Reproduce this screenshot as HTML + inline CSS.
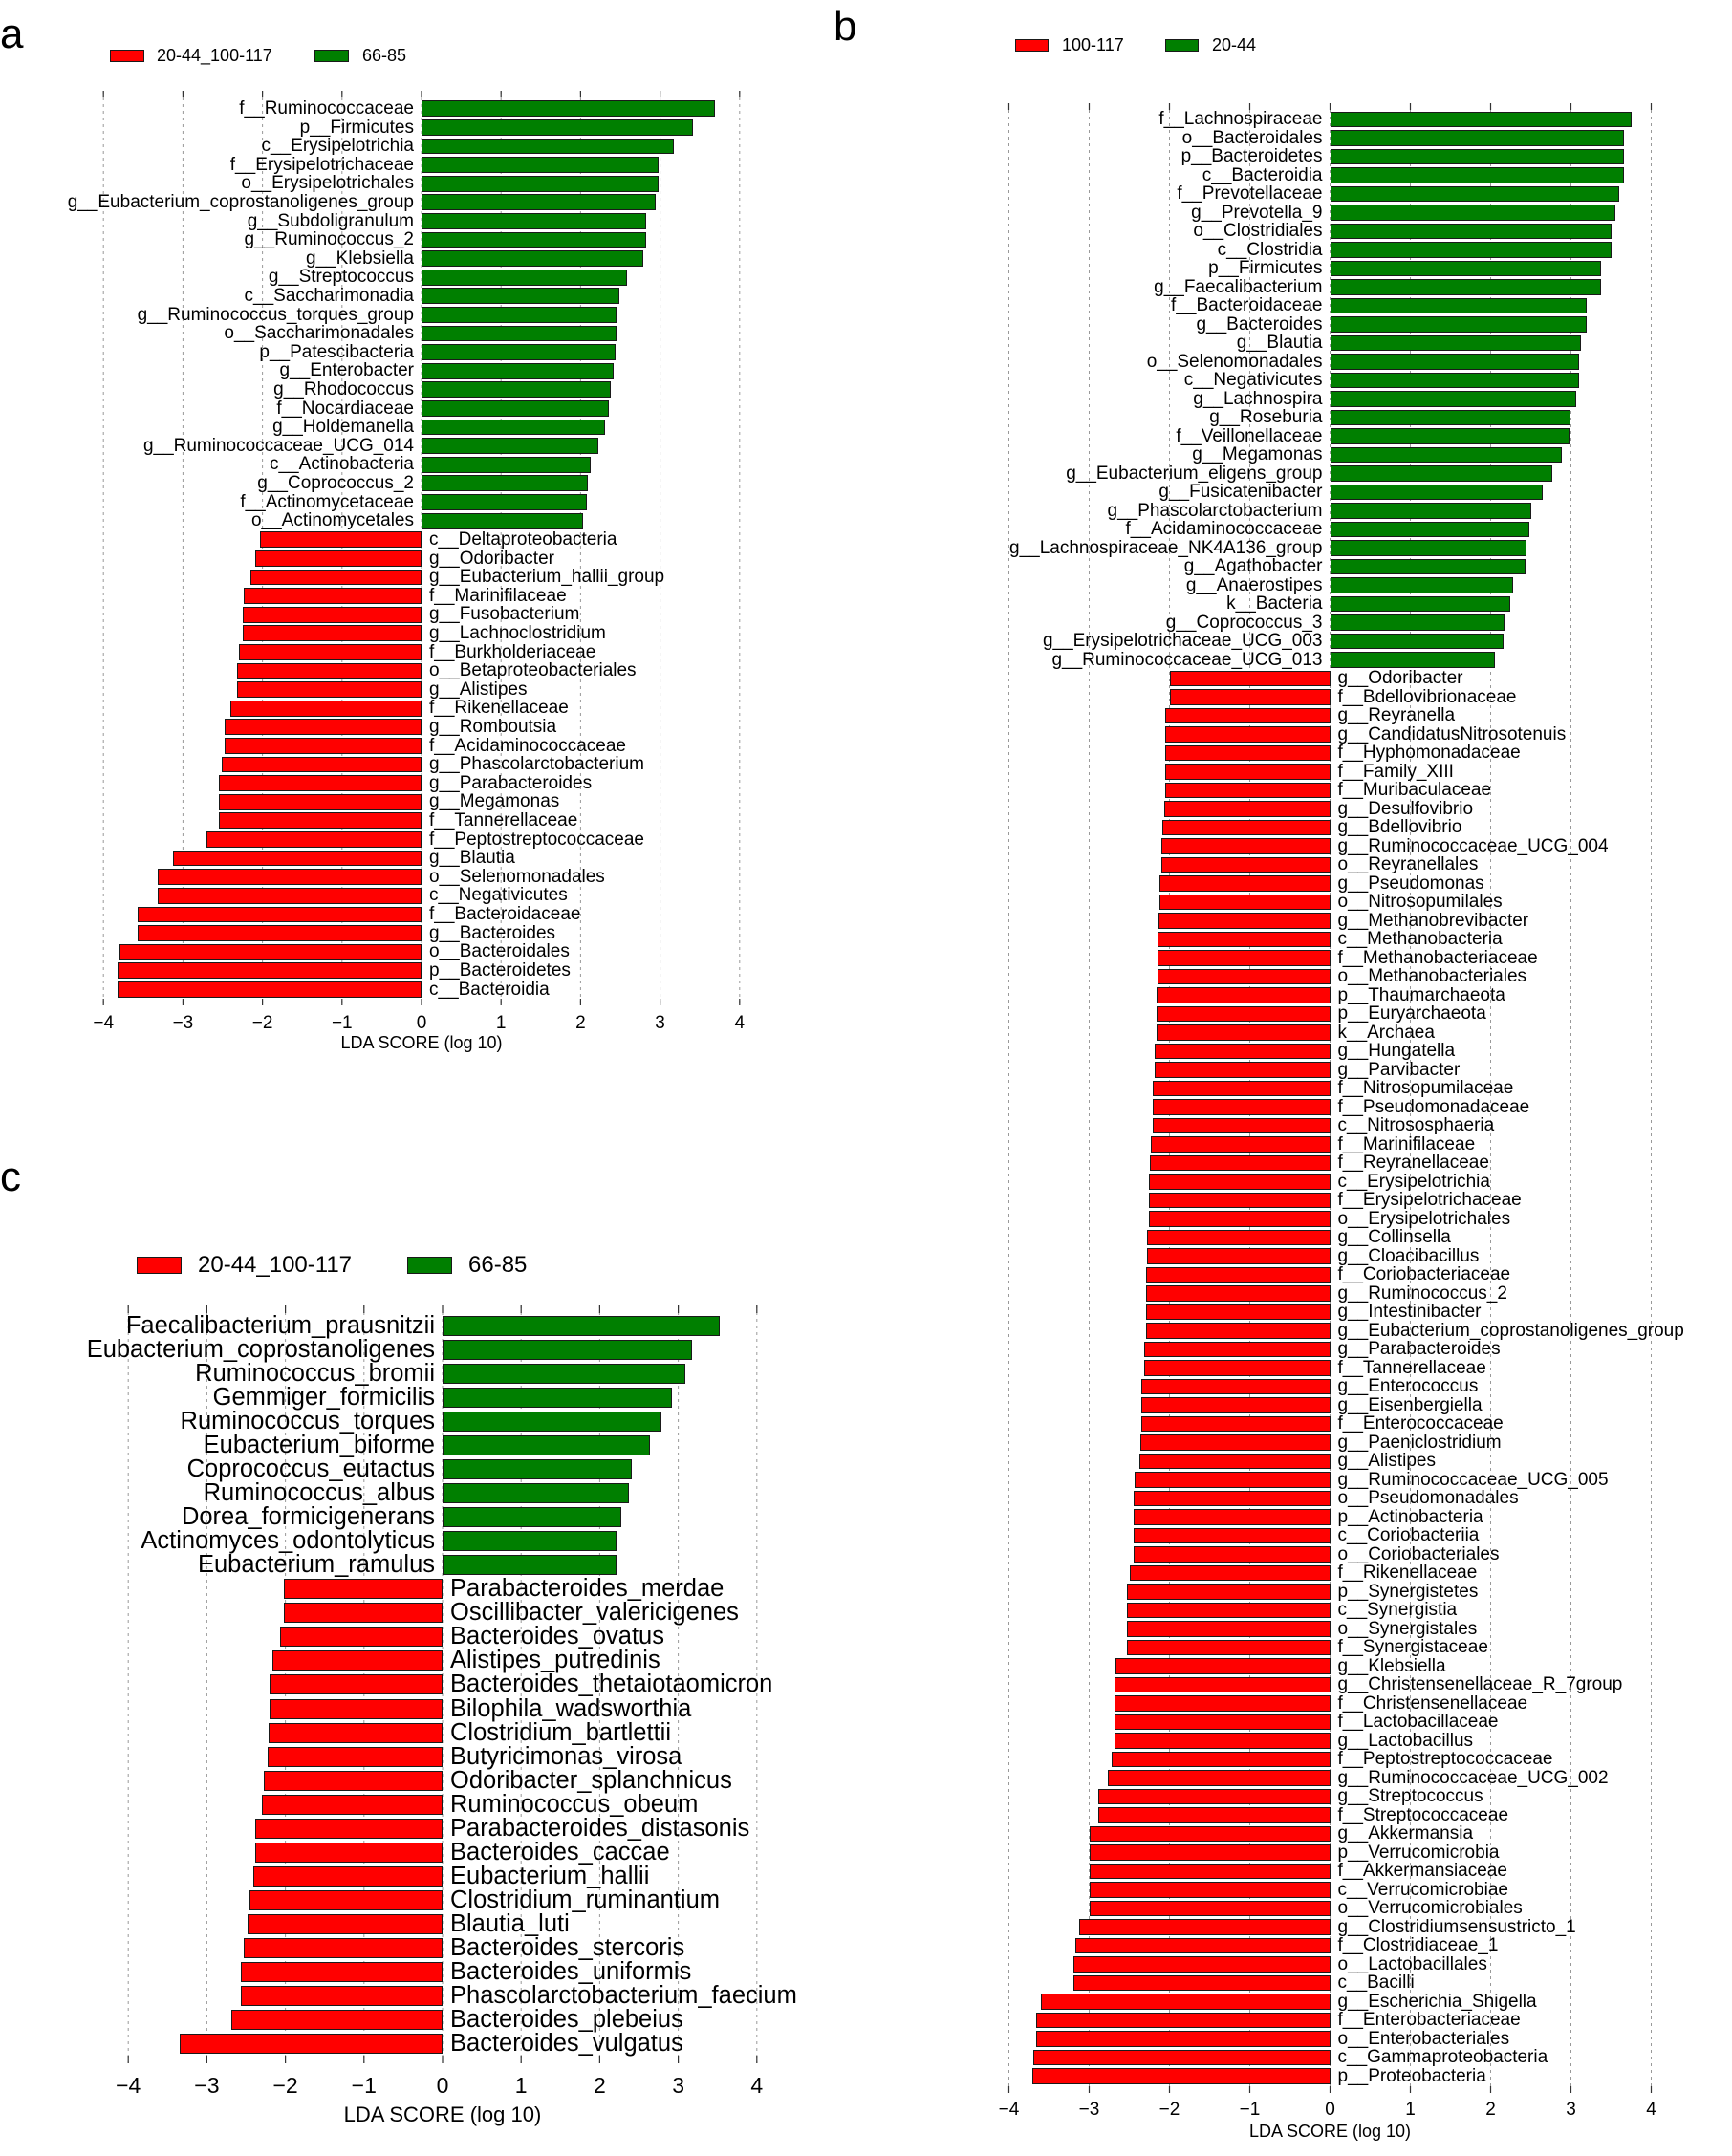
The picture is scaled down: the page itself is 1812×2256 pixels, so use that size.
<!DOCTYPE html>
<html><head><meta charset="utf-8">
<style>
html,body{margin:0;padding:0;background:#fff}
body{width:1812px;height:2256px;position:relative;overflow:hidden;font-family:"Liberation Sans",sans-serif;color:#000}
.lbl{position:absolute;font-size:44px;line-height:1}
.p{position:absolute;width:0}
.r{position:relative;height:var(--h)}
.r i{position:absolute;top:calc((var(--h) - var(--bh))/2);height:var(--bh);box-sizing:border-box;border:1.6px solid #1a1a1a;width:calc(var(--v)*var(--u))}
.g i{left:0;background:#007f00}
.d i{right:0;background:#ff0000}
.r b{position:absolute;top:0;line-height:var(--h);white-space:nowrap;font-weight:normal}
.g b{right:8px}.d b{left:8px}
.pa{left:441px;top:103.9px;--u:83.2px;--h:19.62px;--bh:16.8px;font-size:19px}
.pb{left:1391.5px;top:115.2px;--u:84px;--h:19.51px;--bh:16.7px;font-size:19px}
.pc{left:463px;top:1374.5px;--u:82.2px;--h:25.07px;--bh:21px;font-size:25.5px}
.lg{position:absolute;box-sizing:border-box;border:1.5px solid #1a1a1a}
.lt{position:absolute;white-space:nowrap;line-height:1}
</style></head><body>
<svg width="1812" height="2256" style="position:absolute;left:0;top:0">
<g stroke="#999" stroke-width="1" stroke-dasharray="3,4">
<line x1="108.2" y1="95" x2="108.2" y2="1052"/><line x1="191.4" y1="95" x2="191.4" y2="1052"/><line x1="274.6" y1="95" x2="274.6" y2="1052"/><line x1="357.8" y1="95" x2="357.8" y2="1052"/><line x1="441" y1="95" x2="441" y2="1052"/><line x1="524.2" y1="95" x2="524.2" y2="1052"/><line x1="607.4" y1="95" x2="607.4" y2="1052"/><line x1="690.6" y1="95" x2="690.6" y2="1052"/><line x1="773.8" y1="95" x2="773.8" y2="1052"/>
<line x1="1055.5" y1="108" x2="1055.5" y2="2190"/><line x1="1139.5" y1="108" x2="1139.5" y2="2190"/><line x1="1223.5" y1="108" x2="1223.5" y2="2190"/><line x1="1307.5" y1="108" x2="1307.5" y2="2190"/><line x1="1391.5" y1="108" x2="1391.5" y2="2190"/><line x1="1475.5" y1="108" x2="1475.5" y2="2190"/><line x1="1559.5" y1="108" x2="1559.5" y2="2190"/><line x1="1643.5" y1="108" x2="1643.5" y2="2190"/><line x1="1727.5" y1="108" x2="1727.5" y2="2190"/>
<line x1="134.2" y1="1366" x2="134.2" y2="2159"/><line x1="216.4" y1="1366" x2="216.4" y2="2159"/><line x1="298.6" y1="1366" x2="298.6" y2="2159"/><line x1="380.8" y1="1366" x2="380.8" y2="2159"/><line x1="463" y1="1366" x2="463" y2="2159"/><line x1="545.2" y1="1366" x2="545.2" y2="2159"/><line x1="627.4" y1="1366" x2="627.4" y2="2159"/><line x1="709.6" y1="1366" x2="709.6" y2="2159"/><line x1="791.8" y1="1366" x2="791.8" y2="2159"/>
</g>
<g stroke="#333" stroke-width="1.2">
<path d="M108.2 95v7M191.4 95v7M274.6 95v7M357.8 95v7M441 95v7M524.2 95v7M607.4 95v7M690.6 95v7M773.8 95v7M108.2 1045v7M191.4 1045v7M274.6 1045v7M357.8 1045v7M441 1045v7M524.2 1045v7M607.4 1045v7M690.6 1045v7M773.8 1045v7"/>
<path d="M1055.5 108v7M1139.5 108v7M1223.5 108v7M1307.5 108v7M1391.5 108v7M1475.5 108v7M1559.5 108v7M1643.5 108v7M1727.5 108v7M1055.5 2183v7M1139.5 2183v7M1223.5 2183v7M1307.5 2183v7M1391.5 2183v7M1475.5 2183v7M1559.5 2183v7M1643.5 2183v7M1727.5 2183v7"/>
<path d="M134.2 1366v8M216.4 1366v8M298.6 1366v8M380.8 1366v8M463 1366v8M545.2 1366v8M627.4 1366v8M709.6 1366v8M791.8 1366v8M134.2 2151v8M216.4 2151v8M298.6 2151v8M380.8 2151v8M463 2151v8M545.2 2151v8M627.4 2151v8M709.6 2151v8M791.8 2151v8"/>
</g>
<g font-family="Liberation Sans, sans-serif" text-anchor="middle">
<g font-size="19"><text x="108.2" y="1076">−4</text><text x="191.4" y="1076">−3</text><text x="274.6" y="1076">−2</text><text x="357.8" y="1076">−1</text><text x="441" y="1076">0</text><text x="524.2" y="1076">1</text><text x="607.4" y="1076">2</text><text x="690.6" y="1076">3</text><text x="773.8" y="1076">4</text></g>
<text x="441" y="1097" font-size="18">LDA SCORE (log 10)</text>
<g font-size="19"><text x="1055.5" y="2213">−4</text><text x="1139.5" y="2213">−3</text><text x="1223.5" y="2213">−2</text><text x="1307.5" y="2213">−1</text><text x="1391.5" y="2213">0</text><text x="1475.5" y="2213">1</text><text x="1559.5" y="2213">2</text><text x="1643.5" y="2213">3</text><text x="1727.5" y="2213">4</text></g>
<text x="1391.5" y="2236" font-size="18">LDA SCORE (log 10)</text>
<g font-size="23"><text x="134.2" y="2190">−4</text><text x="216.4" y="2190">−3</text><text x="298.6" y="2190">−2</text><text x="380.8" y="2190">−1</text><text x="463" y="2190">0</text><text x="545.2" y="2190">1</text><text x="627.4" y="2190">2</text><text x="709.6" y="2190">3</text><text x="791.8" y="2190">4</text></g>
<text x="463" y="2220" font-size="22">LDA SCORE (log 10)</text>
</g>
</svg>

<div class="lbl" style="left:0;top:14px">a</div>
<div class="lbl" style="left:872px;top:6px">b</div>
<div class="lbl" style="left:0;top:1210px">c</div>

<div class="lg" style="left:115px;top:52px;width:36px;height:13px;background:#f00"></div>
<div class="lt" style="left:164px;top:49px;font-size:18px">20-44_100-117</div>
<div class="lg" style="left:329px;top:52px;width:36px;height:13px;background:#007f00"></div>
<div class="lt" style="left:379px;top:49px;font-size:18px">66-85</div>

<div class="lg" style="left:1062px;top:41px;width:35px;height:13px;background:#f00"></div>
<div class="lt" style="left:1111px;top:38px;font-size:18px">100-117</div>
<div class="lg" style="left:1219px;top:41px;width:35px;height:13px;background:#007f00"></div>
<div class="lt" style="left:1268px;top:38px;font-size:18px">20-44</div>

<div class="lg" style="left:143px;top:1315px;width:47px;height:18px;background:#f00"></div>
<div class="lt" style="left:207px;top:1312px;font-size:24px">20-44_100-117</div>
<div class="lg" style="left:426px;top:1315px;width:47px;height:18px;background:#007f00"></div>
<div class="lt" style="left:490px;top:1312px;font-size:24px">66-85</div>

<div class="p pa">
<div class="r g" style="--v:3.69"><i></i><b>f__Ruminococcaceae</b></div>
<div class="r g" style="--v:3.41"><i></i><b>p__Firmicutes</b></div>
<div class="r g" style="--v:3.17"><i></i><b>c__Erysipelotrichia</b></div>
<div class="r g" style="--v:2.98"><i></i><b>f__Erysipelotrichaceae</b></div>
<div class="r g" style="--v:2.98"><i></i><b>o__Erysipelotrichales</b></div>
<div class="r g" style="--v:2.94"><i></i><b>g__Eubacterium_coprostanoligenes_group</b></div>
<div class="r g" style="--v:2.82"><i></i><b>g__Subdoligranulum</b></div>
<div class="r g" style="--v:2.82"><i></i><b>g__Ruminococcus_2</b></div>
<div class="r g" style="--v:2.79"><i></i><b>g__Klebsiella</b></div>
<div class="r g" style="--v:2.59"><i></i><b>g__Streptococcus</b></div>
<div class="r g" style="--v:2.49"><i></i><b>c__Saccharimonadia</b></div>
<div class="r g" style="--v:2.45"><i></i><b>g__Ruminococcus_torques_group</b></div>
<div class="r g" style="--v:2.45"><i></i><b>o__Saccharimonadales</b></div>
<div class="r g" style="--v:2.44"><i></i><b>p__Patescibacteria</b></div>
<div class="r g" style="--v:2.42"><i></i><b>g__Enterobacter</b></div>
<div class="r g" style="--v:2.38"><i></i><b>g__Rhodococcus</b></div>
<div class="r g" style="--v:2.36"><i></i><b>f__Nocardiaceae</b></div>
<div class="r g" style="--v:2.31"><i></i><b>g__Holdemanella</b></div>
<div class="r g" style="--v:2.22"><i></i><b>g__Ruminococcaceae_UCG_014</b></div>
<div class="r g" style="--v:2.13"><i></i><b>c__Actinobacteria</b></div>
<div class="r g" style="--v:2.09"><i></i><b>g__Coprococcus_2</b></div>
<div class="r g" style="--v:2.08"><i></i><b>f__Actinomycetaceae</b></div>
<div class="r g" style="--v:2.03"><i></i><b>o__Actinomycetales</b></div>
<div class="r d" style="--v:2.03"><i></i><b>c__Deltaproteobacteria</b></div>
<div class="r d" style="--v:2.09"><i></i><b>g__Odoribacter</b></div>
<div class="r d" style="--v:2.15"><i></i><b>g__Eubacterium_hallii_group</b></div>
<div class="r d" style="--v:2.24"><i></i><b>f__Marinifilaceae</b></div>
<div class="r d" style="--v:2.25"><i></i><b>g__Fusobacterium</b></div>
<div class="r d" style="--v:2.25"><i></i><b>g__Lachnoclostridium</b></div>
<div class="r d" style="--v:2.30"><i></i><b>f__Burkholderiaceae</b></div>
<div class="r d" style="--v:2.32"><i></i><b>o__Betaproteobacteriales</b></div>
<div class="r d" style="--v:2.32"><i></i><b>g__Alistipes</b></div>
<div class="r d" style="--v:2.41"><i></i><b>f__Rikenellaceae</b></div>
<div class="r d" style="--v:2.48"><i></i><b>g__Romboutsia</b></div>
<div class="r d" style="--v:2.48"><i></i><b>f__Acidaminococcaceae</b></div>
<div class="r d" style="--v:2.51"><i></i><b>g__Phascolarctobacterium</b></div>
<div class="r d" style="--v:2.55"><i></i><b>g__Parabacteroides</b></div>
<div class="r d" style="--v:2.55"><i></i><b>g__Megamonas</b></div>
<div class="r d" style="--v:2.55"><i></i><b>f__Tannerellaceae</b></div>
<div class="r d" style="--v:2.70"><i></i><b>f__Peptostreptococcaceae</b></div>
<div class="r d" style="--v:3.12"><i></i><b>g__Blautia</b></div>
<div class="r d" style="--v:3.32"><i></i><b>o__Selenomonadales</b></div>
<div class="r d" style="--v:3.32"><i></i><b>c__Negativicutes</b></div>
<div class="r d" style="--v:3.57"><i></i><b>f__Bacteroidaceae</b></div>
<div class="r d" style="--v:3.57"><i></i><b>g__Bacteroides</b></div>
<div class="r d" style="--v:3.80"><i></i><b>o__Bacteroidales</b></div>
<div class="r d" style="--v:3.82"><i></i><b>p__Bacteroidetes</b></div>
<div class="r d" style="--v:3.82"><i></i><b>c__Bacteroidia</b></div>
</div>

<div class="p pb">
<div class="r g" style="--v:3.76"><i></i><b>f__Lachnospiraceae</b></div>
<div class="r g" style="--v:3.66"><i></i><b>o__Bacteroidales</b></div>
<div class="r g" style="--v:3.66"><i></i><b>p__Bacteroidetes</b></div>
<div class="r g" style="--v:3.66"><i></i><b>c__Bacteroidia</b></div>
<div class="r g" style="--v:3.60"><i></i><b>f__Prevotellaceae</b></div>
<div class="r g" style="--v:3.55"><i></i><b>g__Prevotella_9</b></div>
<div class="r g" style="--v:3.50"><i></i><b>o__Clostridiales</b></div>
<div class="r g" style="--v:3.50"><i></i><b>c__Clostridia</b></div>
<div class="r g" style="--v:3.38"><i></i><b>p__Firmicutes</b></div>
<div class="r g" style="--v:3.38"><i></i><b>g__Faecalibacterium</b></div>
<div class="r g" style="--v:3.20"><i></i><b>f__Bacteroidaceae</b></div>
<div class="r g" style="--v:3.20"><i></i><b>g__Bacteroides</b></div>
<div class="r g" style="--v:3.13"><i></i><b>g__Blautia</b></div>
<div class="r g" style="--v:3.10"><i></i><b>o__Selenomonadales</b></div>
<div class="r g" style="--v:3.10"><i></i><b>c__Negativicutes</b></div>
<div class="r g" style="--v:3.06"><i></i><b>g__Lachnospira</b></div>
<div class="r g" style="--v:2.99"><i></i><b>g__Roseburia</b></div>
<div class="r g" style="--v:2.98"><i></i><b>f__Veillonellaceae</b></div>
<div class="r g" style="--v:2.89"><i></i><b>g__Megamonas</b></div>
<div class="r g" style="--v:2.77"><i></i><b>g__Eubacterium_eligens_group</b></div>
<div class="r g" style="--v:2.65"><i></i><b>g__Fusicatenibacter</b></div>
<div class="r g" style="--v:2.50"><i></i><b>g__Phascolarctobacterium</b></div>
<div class="r g" style="--v:2.48"><i></i><b>f__Acidaminococcaceae</b></div>
<div class="r g" style="--v:2.45"><i></i><b>g__Lachnospiraceae_NK4A136_group</b></div>
<div class="r g" style="--v:2.43"><i></i><b>g__Agathobacter</b></div>
<div class="r g" style="--v:2.28"><i></i><b>g__Anaerostipes</b></div>
<div class="r g" style="--v:2.24"><i></i><b>k__Bacteria</b></div>
<div class="r g" style="--v:2.17"><i></i><b>g__Coprococcus_3</b></div>
<div class="r g" style="--v:2.16"><i></i><b>g__Erysipelotrichaceae_UCG_003</b></div>
<div class="r g" style="--v:2.05"><i></i><b>g__Ruminococcaceae_UCG_013</b></div>
<div class="r d" style="--v:2.00"><i></i><b>g__Odoribacter</b></div>
<div class="r d" style="--v:2.00"><i></i><b>f__Bdellovibrionaceae</b></div>
<div class="r d" style="--v:2.05"><i></i><b>g__Reyranella</b></div>
<div class="r d" style="--v:2.05"><i></i><b>g__CandidatusNitrosotenuis</b></div>
<div class="r d" style="--v:2.05"><i></i><b>f__Hyphomonadaceae</b></div>
<div class="r d" style="--v:2.05"><i></i><b>f__Family_XIII</b></div>
<div class="r d" style="--v:2.05"><i></i><b>f__Muribaculaceae</b></div>
<div class="r d" style="--v:2.07"><i></i><b>g__Desulfovibrio</b></div>
<div class="r d" style="--v:2.09"><i></i><b>g__Bdellovibrio</b></div>
<div class="r d" style="--v:2.10"><i></i><b>g__Ruminococcaceae_UCG_004</b></div>
<div class="r d" style="--v:2.10"><i></i><b>o__Reyranellales</b></div>
<div class="r d" style="--v:2.12"><i></i><b>g__Pseudomonas</b></div>
<div class="r d" style="--v:2.12"><i></i><b>o__Nitrosopumilales</b></div>
<div class="r d" style="--v:2.14"><i></i><b>g__Methanobrevibacter</b></div>
<div class="r d" style="--v:2.15"><i></i><b>c__Methanobacteria</b></div>
<div class="r d" style="--v:2.15"><i></i><b>f__Methanobacteriaceae</b></div>
<div class="r d" style="--v:2.15"><i></i><b>o__Methanobacteriales</b></div>
<div class="r d" style="--v:2.16"><i></i><b>p__Thaumarchaeota</b></div>
<div class="r d" style="--v:2.16"><i></i><b>p__Euryarchaeota</b></div>
<div class="r d" style="--v:2.16"><i></i><b>k__Archaea</b></div>
<div class="r d" style="--v:2.19"><i></i><b>g__Hungatella</b></div>
<div class="r d" style="--v:2.19"><i></i><b>g__Parvibacter</b></div>
<div class="r d" style="--v:2.21"><i></i><b>f__Nitrosopumilaceae</b></div>
<div class="r d" style="--v:2.21"><i></i><b>f__Pseudomonadaceae</b></div>
<div class="r d" style="--v:2.21"><i></i><b>c__Nitrososphaeria</b></div>
<div class="r d" style="--v:2.23"><i></i><b>f__Marinifilaceae</b></div>
<div class="r d" style="--v:2.24"><i></i><b>f__Reyranellaceae</b></div>
<div class="r d" style="--v:2.26"><i></i><b>c__Erysipelotrichia</b></div>
<div class="r d" style="--v:2.26"><i></i><b>f__Erysipelotrichaceae</b></div>
<div class="r d" style="--v:2.26"><i></i><b>o__Erysipelotrichales</b></div>
<div class="r d" style="--v:2.28"><i></i><b>g__Collinsella</b></div>
<div class="r d" style="--v:2.28"><i></i><b>g__Cloacibacillus</b></div>
<div class="r d" style="--v:2.29"><i></i><b>f__Coriobacteriaceae</b></div>
<div class="r d" style="--v:2.29"><i></i><b>g__Ruminococcus_2</b></div>
<div class="r d" style="--v:2.29"><i></i><b>g__Intestinibacter</b></div>
<div class="r d" style="--v:2.29"><i></i><b>g__Eubacterium_coprostanoligenes_group</b></div>
<div class="r d" style="--v:2.31"><i></i><b>g__Parabacteroides</b></div>
<div class="r d" style="--v:2.31"><i></i><b>f__Tannerellaceae</b></div>
<div class="r d" style="--v:2.35"><i></i><b>g__Enterococcus</b></div>
<div class="r d" style="--v:2.35"><i></i><b>g__Eisenbergiella</b></div>
<div class="r d" style="--v:2.35"><i></i><b>f__Enterococcaceae</b></div>
<div class="r d" style="--v:2.36"><i></i><b>g__Paeniclostridium</b></div>
<div class="r d" style="--v:2.38"><i></i><b>g__Alistipes</b></div>
<div class="r d" style="--v:2.43"><i></i><b>g__Ruminococcaceae_UCG_005</b></div>
<div class="r d" style="--v:2.45"><i></i><b>o__Pseudomonadales</b></div>
<div class="r d" style="--v:2.45"><i></i><b>p__Actinobacteria</b></div>
<div class="r d" style="--v:2.45"><i></i><b>c__Coriobacteriia</b></div>
<div class="r d" style="--v:2.45"><i></i><b>o__Coriobacteriales</b></div>
<div class="r d" style="--v:2.50"><i></i><b>f__Rikenellaceae</b></div>
<div class="r d" style="--v:2.53"><i></i><b>p__Synergistetes</b></div>
<div class="r d" style="--v:2.53"><i></i><b>c__Synergistia</b></div>
<div class="r d" style="--v:2.53"><i></i><b>o__Synergistales</b></div>
<div class="r d" style="--v:2.53"><i></i><b>f__Synergistaceae</b></div>
<div class="r d" style="--v:2.67"><i></i><b>g__Klebsiella</b></div>
<div class="r d" style="--v:2.69"><i></i><b>g__Christensenellaceae_R_7group</b></div>
<div class="r d" style="--v:2.69"><i></i><b>f__Christensenellaceae</b></div>
<div class="r d" style="--v:2.69"><i></i><b>f__Lactobacillaceae</b></div>
<div class="r d" style="--v:2.69"><i></i><b>g__Lactobacillus</b></div>
<div class="r d" style="--v:2.72"><i></i><b>f__Peptostreptococcaceae</b></div>
<div class="r d" style="--v:2.77"><i></i><b>g__Ruminococcaceae_UCG_002</b></div>
<div class="r d" style="--v:2.89"><i></i><b>g__Streptococcus</b></div>
<div class="r d" style="--v:2.89"><i></i><b>f__Streptococcaceae</b></div>
<div class="r d" style="--v:3.00"><i></i><b>g__Akkermansia</b></div>
<div class="r d" style="--v:3.00"><i></i><b>p__Verrucomicrobia</b></div>
<div class="r d" style="--v:3.00"><i></i><b>f__Akkermansiaceae</b></div>
<div class="r d" style="--v:3.00"><i></i><b>c__Verrucomicrobiae</b></div>
<div class="r d" style="--v:3.00"><i></i><b>o__Verrucomicrobiales</b></div>
<div class="r d" style="--v:3.12"><i></i><b>g__Clostridiumsensustricto_1</b></div>
<div class="r d" style="--v:3.17"><i></i><b>f__Clostridiaceae_1</b></div>
<div class="r d" style="--v:3.20"><i></i><b>o__Lactobacillales</b></div>
<div class="r d" style="--v:3.20"><i></i><b>c__Bacilli</b></div>
<div class="r d" style="--v:3.60"><i></i><b>g__Escherichia_Shigella</b></div>
<div class="r d" style="--v:3.66"><i></i><b>f__Enterobacteriaceae</b></div>
<div class="r d" style="--v:3.66"><i></i><b>o__Enterobacteriales</b></div>
<div class="r d" style="--v:3.70"><i></i><b>c__Gammaproteobacteria</b></div>
<div class="r d" style="--v:3.71"><i></i><b>p__Proteobacteria</b></div>
</div>

<div class="p pc">
<div class="r g" style="--v:3.53"><i></i><b>Faecalibacterium_prausnitzii</b></div>
<div class="r g" style="--v:3.18"><i></i><b>Eubacterium_coprostanoligenes</b></div>
<div class="r g" style="--v:3.09"><i></i><b>Ruminococcus_bromii</b></div>
<div class="r g" style="--v:2.92"><i></i><b>Gemmiger_formicilis</b></div>
<div class="r g" style="--v:2.78"><i></i><b>Ruminococcus_torques</b></div>
<div class="r g" style="--v:2.64"><i></i><b>Eubacterium_biforme</b></div>
<div class="r g" style="--v:2.41"><i></i><b>Coprococcus_eutactus</b></div>
<div class="r g" style="--v:2.37"><i></i><b>Ruminococcus_albus</b></div>
<div class="r g" style="--v:2.27"><i></i><b>Dorea_formicigenerans</b></div>
<div class="r g" style="--v:2.21"><i></i><b>Actinomyces_odontolyticus</b></div>
<div class="r g" style="--v:2.21"><i></i><b>Eubacterium_ramulus</b></div>
<div class="r d" style="--v:2.02"><i></i><b>Parabacteroides_merdae</b></div>
<div class="r d" style="--v:2.02"><i></i><b>Oscillibacter_valericigenes</b></div>
<div class="r d" style="--v:2.07"><i></i><b>Bacteroides_ovatus</b></div>
<div class="r d" style="--v:2.16"><i></i><b>Alistipes_putredinis</b></div>
<div class="r d" style="--v:2.20"><i></i><b>Bacteroides_thetaiotaomicron</b></div>
<div class="r d" style="--v:2.20"><i></i><b>Bilophila_wadsworthia</b></div>
<div class="r d" style="--v:2.21"><i></i><b>Clostridium_bartlettii</b></div>
<div class="r d" style="--v:2.23"><i></i><b>Butyricimonas_virosa</b></div>
<div class="r d" style="--v:2.28"><i></i><b>Odoribacter_splanchnicus</b></div>
<div class="r d" style="--v:2.30"><i></i><b>Ruminococcus_obeum</b></div>
<div class="r d" style="--v:2.39"><i></i><b>Parabacteroides_distasonis</b></div>
<div class="r d" style="--v:2.39"><i></i><b>Bacteroides_caccae</b></div>
<div class="r d" style="--v:2.41"><i></i><b>Eubacterium_hallii</b></div>
<div class="r d" style="--v:2.46"><i></i><b>Clostridium_ruminantium</b></div>
<div class="r d" style="--v:2.48"><i></i><b>Blautia_luti</b></div>
<div class="r d" style="--v:2.53"><i></i><b>Bacteroides_stercoris</b></div>
<div class="r d" style="--v:2.57"><i></i><b>Bacteroides_uniformis</b></div>
<div class="r d" style="--v:2.57"><i></i><b>Phascolarctobacterium_faecium</b></div>
<div class="r d" style="--v:2.69"><i></i><b>Bacteroides_plebeius</b></div>
<div class="r d" style="--v:3.34"><i></i><b>Bacteroides_vulgatus</b></div>
</div>
</body></html>
